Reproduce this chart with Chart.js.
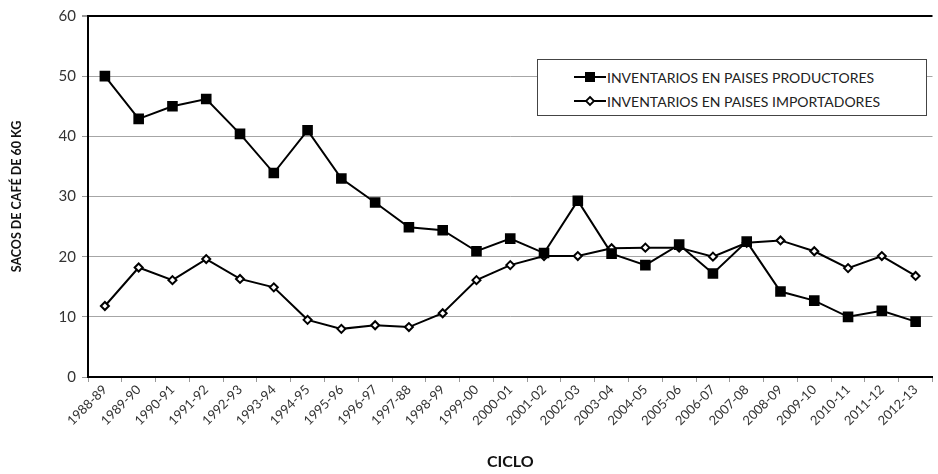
<!DOCTYPE html>
<html>
<head>
<meta charset="utf-8">
<script src="https://cdn.jsdelivr.net/npm/chart.js@4.4.1/dist/chart.umd.min.js"></script>
<style>
    html, body { margin: 0; padding: 0; background: #fff; overflow: hidden; }
    #wrap { position: relative; width: 940px; height: 474px; }
    #legend {
        position: absolute; left: 537px; top: 59px; width: 390px; height: 57px;
        background: #fff; border: 1px solid #444; box-sizing: border-box;
        font-family: Lato, sans-serif; font-size: 14px; color: #222;
        padding: 5px 0 0 36px;
    }
    #legend .row { height: 24px; display: flex; align-items: center; }
    #legend svg { margin-right: 1px; }
</style>
</head>
<body>
<div id="wrap">
    <canvas id="chart" width="940" height="474"></canvas>
    <div id="legend">
        <div class="row">
            <svg width="32" height="12"><line x1="0" y1="6" x2="32" y2="6" stroke="#000" stroke-width="2"/><rect x="11" y="1" width="10" height="10" fill="#000"/></svg>
            <span>INVENTARIOS EN PAISES PRODUCTORES</span>
        </div>
        <div class="row">
            <svg width="32" height="12"><line x1="0" y1="6" x2="32" y2="6" stroke="#000" stroke-width="2"/><polygon points="16,2 20,6 16,10 12,6" fill="#fff" stroke="#000" stroke-width="1.8"/></svg>
            <span>INVENTARIOS EN PAISES IMPORTADORES</span>
        </div>
    </div>
</div>
<script>
    var ciclos = ['1988-89', '1989-90', '1990-91', '1991-92', '1992-93', '1993-94', '1994-95',
        '1995-96', '1996-97', '1997-88', '1998-99', '1999-00', '2000-01', '2001-02', '2002-03',
        '2003-04', '2004-05', '2005-06', '2006-07', '2007-08', '2008-09', '2009-10', '2010-11',
        '2011-12', '2012-13'];

    var productores = [50, 42.9, 45, 46.2, 40.4, 33.9, 41, 33, 29, 24.9, 24.4, 20.9, 23, 20.6,
        29.3, 20.5, 18.6, 22, 17.2, 22.5, 14.2, 12.7, 10, 11, 9.2];

    var importadores = [11.8, 18.2, 16.1, 19.6, 16.3, 14.9, 9.5, 8, 8.6, 8.3, 10.6, 16.1, 18.6,
        20.1, 20.1, 21.4, 21.5, 21.5, 20, 22.3, 22.7, 20.9, 18.1, 20.1, 16.8];

    var yTicks = [0, 10, 20, 30, 40, 50, 60];

    var config = {
        type: 'line',
        data: {
            labels: ciclos,
            datasets: [{
                label: 'INVENTARIOS EN PAISES PRODUCTORES',
                data: productores,
                borderColor: '#000',
                borderWidth: 2,
                pointStyle: 'rect',
                pointRadius: 7.5,
                pointBackgroundColor: '#000',
                pointBorderColor: '#000',
                pointBorderWidth: 0,
                tension: 0
            }, {
                label: 'INVENTARIOS EN PAISES IMPORTADORES',
                data: importadores,
                borderColor: '#000',
                borderWidth: 2,
                pointStyle: 'rectRot',
                pointRadius: 4,
                pointBackgroundColor: '#fff',
                pointBorderColor: '#000',
                pointBorderWidth: 2,
                tension: 0
            }]
        },
        options: {
            responsive: false,
            animation: false,
            layout: { padding: { top: 16, right: 0, left: 0, bottom: 0 } },
            plugins: {
                legend: { display: false },
                tooltip: { enabled: false }
            },
            scales: {
                x: {
                    offset: true,
                    grid: {
                        display: true,
                        drawOnChartArea: false,
                        offset: true,
                        tickLength: 5,
                        color: '#999'
                    },
                    border: { display: true, color: '#000', width: 2 },
                    ticks: {
                        color: '#333',
                        font: { family: 'Lato', size: 13 },
                        maxRotation: 45,
                        minRotation: 45,
                        autoSkip: false,
                        padding: 0
                    },
                    title: {
                        display: true,
                        text: 'CICLO',
                        color: '#111',
                        font: { family: 'Lato', size: 16, weight: 'bold' },
                        padding: { top: 0, bottom: 3 }
                    },
                    afterFit: function (scale) { scale.height = 97; }
                },
                y: {
                    min: 0,
                    max: 60,
                    afterBuildTicks: function (scale) {
                        scale.ticks = yTicks.map(function (v) { return { value: v }; });
                    },
                    grid: {
                        color: function (ctx) { return ctx.tick && ctx.tick.value === 60 ? '#000' : '#a6a6a6'; },
                        lineWidth: function (ctx) { return ctx.tick && ctx.tick.value === 60 ? 2 : 1; },
                        tickColor: '#999',
                        tickLength: 6
                    },
                    border: { display: true, color: '#000', width: 2 },
                    ticks: {
                        color: '#333',
                        font: { family: 'Lato', size: 15 },
                        padding: 6
                    },
                    title: {
                        display: true,
                        text: 'SACOS DE CAFÉ DE 60 KG',
                        color: '#111',
                        font: { family: 'Lato', size: 12.5, weight: 'bold' },
                        padding: { top: 9, bottom: 0 }
                    },
                    afterFit: function (scale) { scale.width = 88; }
                }
            }
        }
    };

    var ctx = document.getElementById('chart').getContext('2d');
    var myChart = new Chart(ctx, config);
</script>
</body>
</html>
